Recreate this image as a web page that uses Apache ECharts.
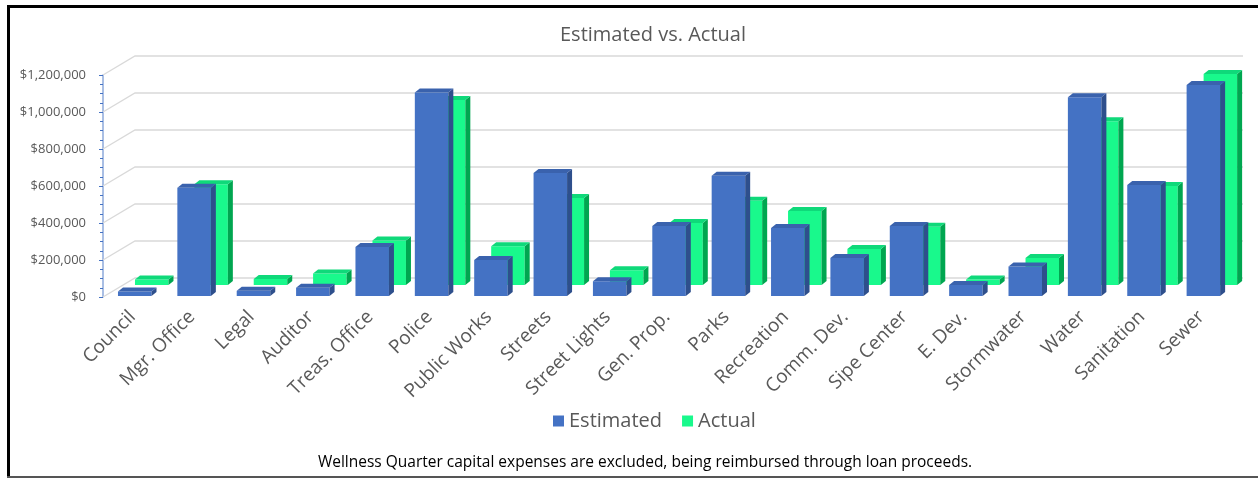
<!DOCTYPE html>
<html>
<head>
<meta charset="utf-8">
<script src="https://cdn.jsdelivr.net/npm/echarts@6/dist/echarts.min.js"></script>
<style>
  html, body { margin: 0; padding: 0; background: #fff; }
  #chart { width: 1258px; height: 479px; }
</style>
</head>
<body>
<div id="chart"></div>
<script>
var categories = ['Council', 'Mgr. Office', 'Legal', 'Auditor', 'Treas. Office', 'Police',
  'Public Works', 'Streets', 'Street Lights', 'Gen. Prop.', 'Parks', 'Recreation',
  'Comm. Dev.', 'Sipe Center', 'E. Dev.', 'Stormwater', 'Water', 'Sanitation', 'Sewer'];
var estimated = [25000, 585000, 28000, 45000, 265000, 1100000, 195000, 665000, 80000,
  378000, 650000, 368000, 205000, 378000, 60000, 160000, 1075000, 600000, 1140000];
var actual = [30000, 545000, 32000, 62000, 240000, 1000000, 210000, 470000, 80000,
  335000, 455000, 400000, 195000, 315000, 30000, 146000, 885000, 535000, 1140000];
var yTicks = [0, 200000, 400000, 600000, 800000, 1000000, 1200000];

var font = '"Open Sans", "Noto Sans", sans-serif';

// a box with front, side and top faces
function makeBar(colors, offX, offY) {
  return function (params, api) {
    var i = api.value(0);
    var base = api.coord([i, 0]);
    var top = api.coord([i, api.value(1)]);
    var w = 33.5, dx = 5, dy = -4;
    var left = base[0] - 14.7 + offX;
    var by = base[1] + offY;
    var ty = top[1] + offY;
    if (by - ty < 1) ty = by - 1;
    return {
      type: 'group',
      children: [
        { type: 'rect', shape: { x: left, y: ty, width: w, height: by - ty },
          style: { fill: colors[0] } },
        { type: 'polygon', shape: { points: [[left + w, ty], [left + w + dx, ty + dy],
            [left + w + dx, by + dy], [left + w, by]] }, style: { fill: colors[1] } },
        { type: 'polygon', shape: { points: [[left, ty], [left + dx, ty + dy],
            [left + w + dx, ty + dy], [left + w, ty]] }, style: { fill: colors[2] } }
      ]
    };
  };
}

var chart = echarts.init(document.getElementById('chart'));
chart.setOption({
  backgroundColor: '#fff',
  animation: false,
  title: [{
    text: 'Estimated vs. Actual',
    left: 648,
    textAlign: 'center',
    top: 20,
    textStyle: { color: '#595959', fontSize: 20, fontWeight: 'normal', fontFamily: font }
  }, {
    text: 'Wellness Quarter capital expenses are excluded, being reimbursed through loan proceeds.',
    left: 640,
    textAlign: 'center',
    top: 450,
    textStyle: { color: '#000', fontSize: 15.5, fontWeight: 'normal', fontFamily: font }
  }],
  legend: {
    data: ['Estimated', 'Actual'],
    top: 406,
    left: 548,
    icon: 'rect',
    itemWidth: 11,
    itemHeight: 11,
    itemGap: 20,
    textStyle: { color: '#595959', fontSize: 20, fontFamily: font }
  },
  grid: { left: 103, top: 75, width: 1128, height: 222 },
  xAxis: {
    type: 'category',
    data: categories,
    axisLine: { show: false },
    axisTick: { show: false },
    axisLabel: { rotate: 45, margin: 17, interval: 0, color: '#595959', fontSize: 19, fontFamily: font }
  },
  yAxis: {
    type: 'value',
    min: 0,
    max: 1200000,
    interval: 200000,
    axisLine: { show: true, lineStyle: { color: '#8eaadb', width: 1.5 } },
    axisTick: { show: true, length: 4, lineStyle: { color: '#4472c4' } },
    minorTick: { show: true, splitNumber: 4, length: 3, lineStyle: { color: '#4472c4' } },
    splitLine: { show: false },
    axisLabel: {
      color: '#595959', fontSize: 13, fontFamily: font, margin: 17,
      formatter: function (v) { return '$' + v.toLocaleString('en-US'); }
    }
  },
  graphic: [
    { type: 'rect', shape: { x: 7, y: 5, width: 3, height: 472 }, style: { fill: '#000' } },
    { type: 'rect', shape: { x: 7, y: 5, width: 1251, height: 3 }, style: { fill: '#000' } },
    { type: 'rect', shape: { x: 7, y: 476, width: 1251, height: 2 }, style: { fill: '#555' } }
  ],
  series: [{
    name: 'grid',
    type: 'custom',
    silent: true,
    z: 1,
    data: yTicks.map(function (v) { return [0, v]; }),
    renderItem: function (params, api) {
      var p = api.coord([0, api.value(1)]);
      var x0 = params.coordSys.x;
      var x1 = params.coordSys.x + params.coordSys.width + 12;
      return {
        type: 'polyline',
        shape: { points: [[x0, p[1]], [x0 + 32, p[1] - 19], [x1, p[1] - 19]] },
        style: { stroke: '#d9d9d9', lineWidth: 1.3, fill: null }
      };
    }
  }, {
    name: 'Actual',
    type: 'custom',
    z: 2,
    itemStyle: { color: '#19f98c' },
    data: actual.map(function (v, i) { return [i, v]; }),
    renderItem: makeBar(['#19f98c', '#00a650', '#0fd97a'], 17, -12)
  }, {
    name: 'Estimated',
    type: 'custom',
    z: 3,
    itemStyle: { color: '#4472c4' },
    data: estimated.map(function (v, i) { return [i, v]; }),
    renderItem: makeBar(['#4472c4', '#2e4f8c', '#3a62ad'], 0, -1)
  }]
});
</script>
</body>
</html>
